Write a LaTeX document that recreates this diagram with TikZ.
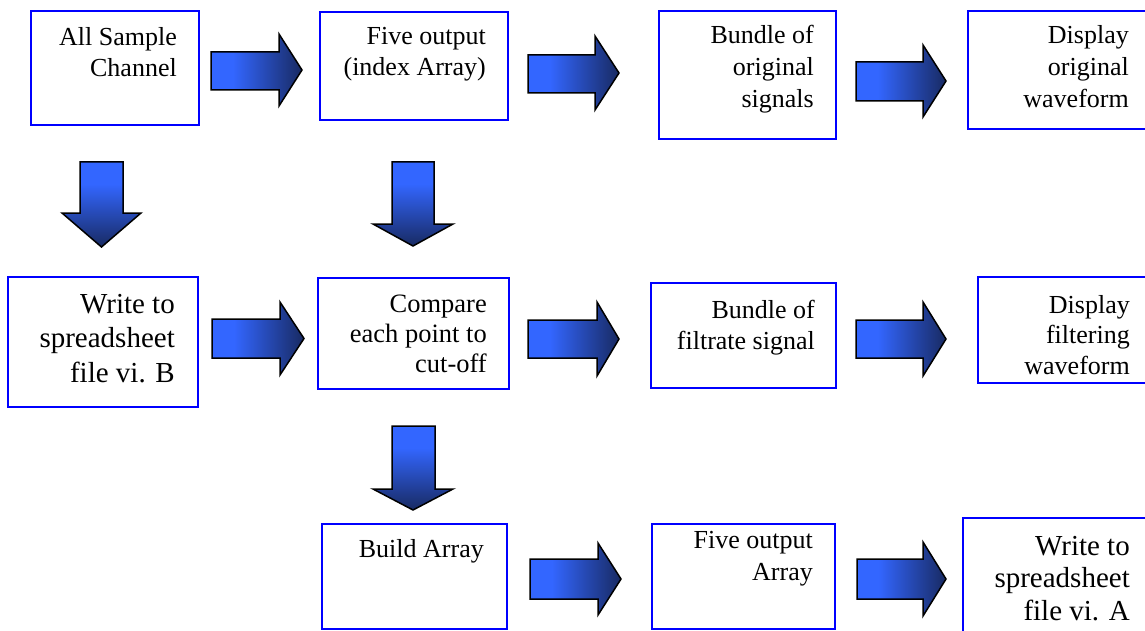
\documentclass[tikz,border=0pt]{standalone}
\usepackage{fontspec}
\setmainfont{Liberation Serif}
\definecolor{abright}{HTML}{3366FF}
\definecolor{adark}{HTML}{182A62}
\definecolor{boxblue}{HTML}{0000FF}
\pgfdeclarehorizontalshading{harrow}{100bp}{color(0bp)=(abright); color(25bp)=(abright); color(37bp)=(abright); color(75bp)=(adark); color(100bp)=(adark)}
\pgfdeclareverticalshading{varrow}{100bp}{color(0bp)=(adark); color(25bp)=(adark); color(62bp)=(abright); color(75bp)=(abright); color(100bp)=(abright)}
\newcommand\rarr[7]{% x1 x2 x3 shafttop shaftbot headtop headbot
  \draw[arrline, shading=harrow] (#1,#4) -- (#2,#4) -- (#2,#6) -- (#3,{(#6+#7)/2}) -- (#2,#7) -- (#2,#5) -- (#1,#5) -- cycle;}
\newcommand\darr[7]{% y1 y2 y3 shaftleft shaftright headleft headright
  \draw[arrline, shading=varrow] (#4,#1) -- (#4,#2) -- (#6,#2) -- ({(#6+#7)/2},#3) -- (#7,#2) -- (#5,#2) -- (#5,#1) -- cycle;}
\begin{document}
\begin{tikzpicture}[x=1pt,y=-1pt,
  box/.style={draw=boxblue, line width=2pt, rectangle, inner sep=0pt, anchor=north west},
  txt/.style={anchor=base east, align=right, inner sep=0pt, font=\fontsize{26}{32}\selectfont},
  bigtxt/.style={txt, font=\fontsize{29}{34.5}\selectfont},
  arrline/.style={draw=black, line width=1.5pt, line join=miter}]
\useasboundingbox (0,0) rectangle (1145,631);
\clip (0,0) rectangle (1145,631);
% boxes
\node[box, minimum width=168, minimum height=114] (b1) at (30,10) {};
\node[box, minimum width=188, minimum height=108] (b2) at (319,11) {};
\node[box, minimum width=177, minimum height=128] (b3) at (658,10) {};
\node[box, minimum width=190, minimum height=118] (b4) at (967,10) {};
\node[box, minimum width=190, minimum height=130] (b5) at (7,276) {};
\node[box, minimum width=191, minimum height=111] (b6) at (317,277) {};
\node[box, minimum width=185, minimum height=105] (b7) at (650,282) {};
\node[box, minimum width=180, minimum height=106] (b8) at (977,276) {};
\node[box, minimum width=185, minimum height=105] (b9) at (321,523) {};
\node[box, minimum width=183, minimum height=105] (b10) at (651,523) {};
\node[box, minimum width=195, minimum height=130] (b11) at (962,517) {};
% texts (anchored at the baseline of the last line)
\node[txt, font=\fontsize{26}{31.5}\selectfont] (t1) at (177,77) {All Sample\\Channel};
\node[txt, font=\fontsize{26}{31}\selectfont] (t2) at (486,76) {Five output\\(index Array)};
\node[txt] (t3) at (814,108) {Bundle of\\original\\signals};
\node[txt] (t4) at (1129,108) {Display\\original\\waveform};
\node[bigtxt] (t5) at (175,382) {Write to\\spreadsheet\\file vi. B};
\node[txt, font=\fontsize{26.5}{30}\selectfont] (t6) at (487,372) {Compare\\each point to\\cut-off};
\node[txt, font=\fontsize{26}{31}\selectfont] (t7) at (815,349) {Bundle of\\filtrate signal};
\node[txt, font=\fontsize{26}{30.5}\selectfont] (t8) at (1130,374) {Display\\filtering\\waveform};
\node[txt] (t9) at (484,557) {Build Array};
\node[txt] (t10) at (813,580) {Five output\\Array};
\node[bigtxt, font=\fontsize{29}{32.5}\selectfont] (t11) at (1130,620) {Write to\\spreadsheet\\file vi. A};
% horizontal block arrows
\rarr{211}{279}{302}{52}{90}{34}{106}
\rarr{528}{595}{619}{55}{93}{36}{110}
\rarr{856}{923}{946}{62}{101}{45}{117}
\rarr{212}{280}{304}{319}{358}{302}{375}
\rarr{528}{597}{619}{320}{358}{302}{376}
\rarr{856}{923}{946}{320}{358}{302}{376}
\rarr{530}{598}{621}{559}{599}{543}{615}
\rarr{857}{923}{946}{559}{599}{542}{616}
% vertical block arrows
\darr{162}{213}{247}{80}{123}{62}{141}
\darr{162}{224}{246}{392}{434}{373}{453}
\darr{426}{489}{510}{392}{435}{373}{453}
\end{tikzpicture}
\end{document}
